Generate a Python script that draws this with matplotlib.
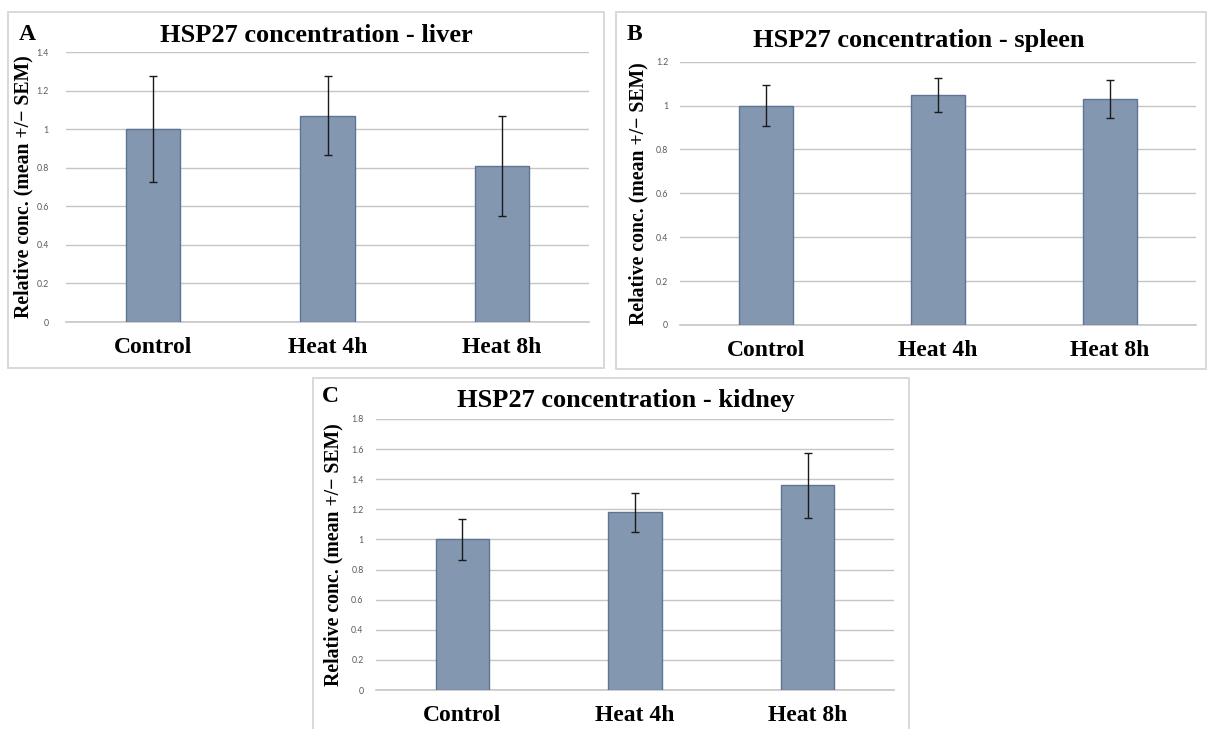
import matplotlib
matplotlib.use("Agg")
import matplotlib.pyplot as plt
from matplotlib.patches import Rectangle
from matplotlib.ticker import FuncFormatter, MultipleLocator

# groups shared by all three tissues
groups = ["Control", "Heat 4h", "Heat 8h"]

# relative HSP27 concentration (mean) and SEM per tissue
liver_mean = [1.00, 1.07, 0.81]
liver_sem = [0.275, 0.205, 0.26]
spleen_mean = [1.00, 1.047, 1.03]
spleen_sem = [0.092, 0.077, 0.088]
kidney_mean = [1.00, 1.18, 1.36]
kidney_sem = [0.137, 0.13, 0.215]

W, H = 1207, 729
fig = plt.figure(figsize=(W / 100, H / 100), dpi=100)

serif = "Liberation Serif"
bar_color = "#8497B0"
edge_color = "#5D7496"
grid_color = "#C6C6C6"


def px_axes(x0, x1, ytop, ybot):
    # pixel box (from the top-left corner) to figure fractions
    return [x0 / W, 1 - ybot / H, (x1 - x0) / W, (ybot - ytop) / H]


def frame(x0, y0, x1, y1):
    r = Rectangle((x0 / W, 1 - y1 / H), (x1 - x0) / W, (y1 - y0) / H,
                  transform=fig.transFigure, fill=False,
                  edgecolor="#D6D6D6", lw=1.3)
    fig.add_artist(r)


def panel(box, means, sems, ymax, title, tx, ty, letter, lx, ly, tickpad, ylab_x):
    ax = fig.add_axes(px_axes(*box))
    xs = range(len(groups))
    ax.bar(xs, means, width=0.31, color=bar_color, edgecolor=edge_color,
           linewidth=1.0, zorder=3)
    ax.errorbar(xs, means, yerr=sems, fmt="none", ecolor="#1a1a1a",
                elinewidth=1.0, capsize=3, capthick=1.0, zorder=4)
    ax.set_xlim(-0.5, 2.5)
    ax.set_ylim(0, ymax)
    ax.yaxis.set_major_locator(MultipleLocator(0.2))
    ax.yaxis.set_major_formatter(FuncFormatter(lambda v, p: f"{v:g}"))
    ax.set_xticks(list(xs))
    ax.set_xticklabels(groups, fontfamily=serif, fontweight="bold", fontsize=17)
    ax.tick_params(axis="x", length=0, pad=11)
    ax.tick_params(axis="y", length=0, pad=tickpad, labelsize=6.3,
                   labelcolor="#595959")
    for lab in ax.get_yticklabels():
        lab.set_fontfamily("Lato")
    ax.grid(axis="y", color=grid_color, lw=1.0, zorder=0)
    ax.axhline(0, color=grid_color, lw=1.2, clip_on=False, zorder=1)
    for s in ax.spines.values():
        s.set_visible(False)
    ax.set_ylabel("Relative conc. (mean +/\u2212 SEM)", fontfamily=serif,
                  fontweight="bold", fontsize=14.2, va="center")
    ax.yaxis.set_label_coords(ylab_x, 0.5)
    fig.text(tx / W, 1 - ty / H, title, fontfamily=serif, fontweight="bold",
             fontsize=19, ha="center", va="center")
    fig.text(lx / W, 1 - ly / H, letter, fontfamily=serif, fontweight="bold",
             fontsize=17, ha="left", va="center")
    return ax


frame(8, 12, 604, 368)
frame(616, 12, 1206, 369)
frame(313, 378, 909, 740)

panel((66, 589, 52, 322), liver_mean, liver_sem, 1.4,
      "HSP27 concentration - liver", 316, 36, "A", 19, 35, 12.5, -0.081)
panel((680, 1196, 61.7, 325), spleen_mean, spleen_sem, 1.2,
      "HSP27 concentration - spleen", 919, 41, "B", 627, 35, 8.5, -0.080)
panel((376, 894, 419, 690), kidney_mean, kidney_sem, 1.8,
      "HSP27 concentration - kidney", 626, 401, "C", 322, 396, 9, -0.083)

fig.savefig("out.png", dpi=100, facecolor="white")
